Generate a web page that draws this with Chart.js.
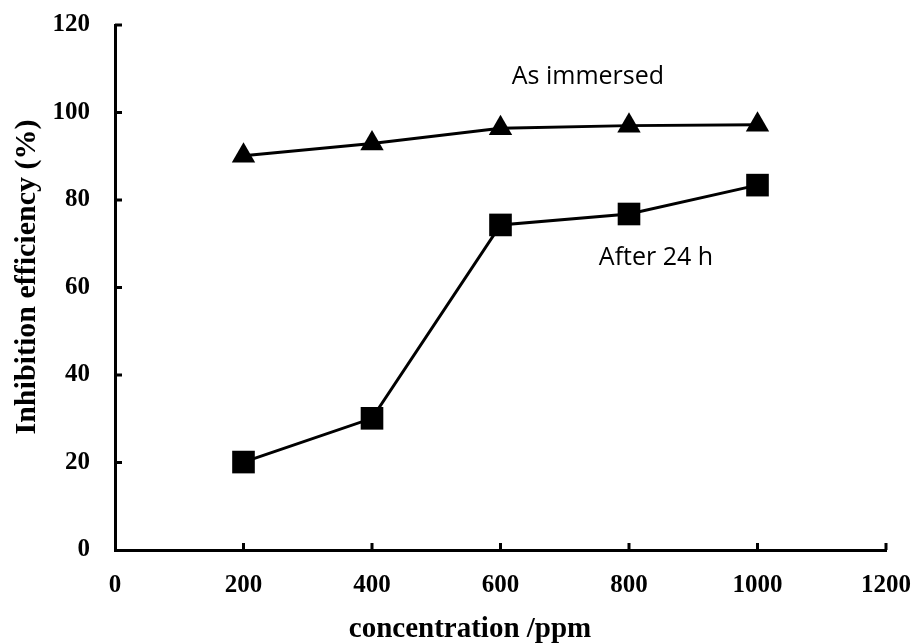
<!DOCTYPE html>
<html>
<head>
<meta charset="utf-8">
<script src="https://cdn.jsdelivr.net/npm/chart.js@4.4.0/dist/chart.umd.min.js"></script>
<style>
  html, body { margin: 0; padding: 0; background: #fff; }
  #wrap { width: 912px; height: 644px; }
</style>
</head>
<body>
<div id="wrap"><canvas id="grafico" width="912" height="644"></canvas></div>
<script>
// concentration (ppm)
const concentracoes = [200, 400, 600, 800, 1000];
// inhibition efficiency (%)
const asImmersed = [90.1, 92.9, 96.4, 97.0, 97.2];
const after24h = [20.1, 30.1, 74.3, 76.8, 83.4];
const xTicks = [0, 200, 400, 600, 800, 1000, 1200];
const yTicks = [0, 20, 40, 60, 80, 100, 120];

// text labels placed in data units
const rotulos = [
  { texto: "As immersed", x: 736, y: 108.1 },
  { texto: "After 24 h", x: 842, y: 66.7 },
];
const tituloX = "concentration /ppm";
const tituloY = "Inhibition efficiency (%)";

const serif = "'Liberation Serif', 'Times New Roman', serif";

// inward tick marks, annotations and axis titles
const extras = {
  id: "extras",
  afterDraw(chart) {
    const { ctx, scales } = chart;
    const xs = scales.x, ys = scales.y;
    ctx.save();
    ctx.strokeStyle = "#000";
    ctx.lineWidth = 3;
    ctx.beginPath();
    xTicks.forEach((v) => {
      if (v === 0) return;
      const px = xs.getPixelForValue(v);
      ctx.moveTo(px, ys.bottom);
      ctx.lineTo(px, ys.bottom - 7);
    });
    yTicks.forEach((v) => {
      if (v === 0) return;
      const py = ys.getPixelForValue(v);
      ctx.moveTo(xs.left, py);
      ctx.lineTo(xs.left + 7, py);
    });
    ctx.stroke();

    ctx.fillStyle = "#000";
    ctx.font = "25px 'Open Sans', 'Noto Sans', sans-serif";
    ctx.textAlign = "center";
    ctx.textBaseline = "middle";
    rotulos.forEach((r) => {
      ctx.fillText(r.texto, xs.getPixelForValue(r.x), ys.getPixelForValue(r.y));
    });

    // axis titles
    ctx.textBaseline = "alphabetic";
    ctx.font = "bold 29px " + serif;
    ctx.fillText(tituloX, 470, 637);
    ctx.translate(35, 277);
    ctx.rotate(-Math.PI / 2);
    ctx.font = "bold 30px " + serif;
    ctx.fillText(tituloY, 0, 0);
    ctx.restore();
  },
};

new Chart(document.getElementById("grafico").getContext("2d"), {
  type: "scatter",
  data: {
    datasets: [
      {
        label: "As immersed",
        data: concentracoes.map((c, i) => ({ x: c, y: asImmersed[i] })),
        showLine: true,
        borderColor: "#000",
        backgroundColor: "#000",
        borderWidth: 3,
        pointStyle: "triangle",
        pointRadius: 13.5,
        pointBorderWidth: 0,
      },
      {
        label: "After 24 h",
        data: concentracoes.map((c, i) => ({ x: c, y: after24h[i] })),
        showLine: true,
        borderColor: "#000",
        backgroundColor: "#000",
        borderWidth: 3,
        pointStyle: "rect",
        pointRadius: 16,
        pointBorderWidth: 0,
      },
    ],
  },
  options: {
    responsive: false,
    animation: false,
    layout: { padding: { top: 25, right: 26, left: 0, bottom: 0 } },
    plugins: { legend: { display: false }, tooltip: { enabled: false } },
    scales: {
      x: {
        type: "linear",
        min: 0,
        max: 1200,
        afterBuildTicks: (s) => { s.ticks = xTicks.map((v) => ({ value: v })); },
        afterFit: (s) => {
          s.height = 94;
          s.paddingLeft = 0;
          s.paddingRight = 0;
        },
        grid: { display: false, drawTicks: false },
        border: { display: true, color: "#000", width: 3 },
        ticks: {
          color: "#000",
          padding: 21,
          maxRotation: 0,
          callback: (v) => String(v),
          font: { family: serif, size: 25, weight: "bold" },
        },
      },
      y: {
        type: "linear",
        min: 0,
        max: 120,
        afterBuildTicks: (s) => { s.ticks = yTicks.map((v) => ({ value: v })); },
        afterFit: (s) => {
          s.width = 115;
          s.paddingTop = 0;
          s.paddingBottom = 0;
        },
        grid: { display: false, drawTicks: false },
        border: { display: true, color: "#000", width: 3 },
        ticks: {
          color: "#000",
          padding: 25,
          callback: (v) => String(v),
          font: { family: serif, size: 25, weight: "bold" },
        },
      },
    },
  },
  plugins: [extras],
});
</script>
</body>
</html>
